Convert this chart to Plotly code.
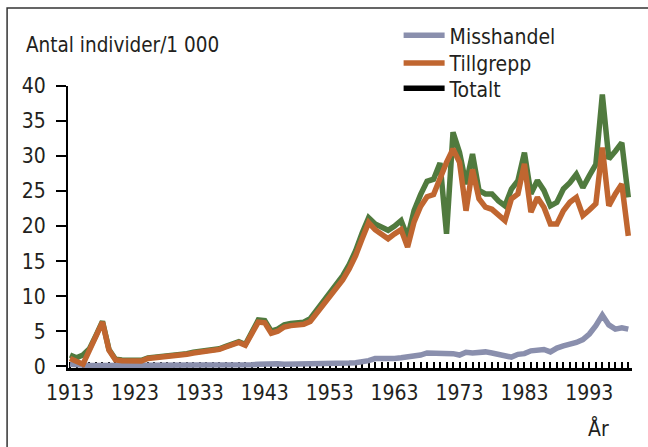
import plotly.graph_objects as go

years = list(range(1913, 2000))
tick_years = [1913, 1923, 1933, 1943, 1953, 1963, 1973, 1983, 1993]
tick_labels = [str(y) for y in tick_years]

misshandel = [
    0.3, 0.2, 0.15, 0.1, 0.1, 0.1, 0.1, 0.1, 0.1, 0.1,
    0.1, 0.05, 0.05, 0.05, 0.1, 0.1, 0.1, 0.1, 0.1, 0.1,
    0.1, 0.1, 0.1, 0.1, 0.1, 0.15, 0.15, 0.2, 0.2, 0.3,
    0.35, 0.3, 0.35, 0.3, 0.3, 0.3, 0.3, 0.3, 0.35, 0.35,
    0.4, 0.4, 0.4, 0.45, 0.5, 0.6, 0.8, 1.1, 1.1, 1.0,
    1.1, 1.2, 1.3, 1.5, 1.6, 1.9, 1.9, 1.9, 1.9, 1.8,
    1.6, 2.0, 1.9, 1.95, 2.05, 1.9, 1.7, 1.6, 1.3, 1.7,
    1.8, 2.2, 2.3, 2.4, 2.05, 2.6, 2.9, 3.1, 3.4, 3.8,
    4.6, 5.8, 7.3, 5.9, 5.3, 5.5, 5.3,
]

tillgrepp = [
    1.1, 0.8, 0.3, 2.3, 4.3, 6.3, 2.3, 0.9, 0.8, 0.75,
    0.8, 0.75, 1.1, 1.2, 1.2, 1.3, 1.4, 1.6, 1.7, 1.9,
    2.05, 2.2, 2.3, 2.4, 2.75, 3.0, 3.4, 3.0, 4.8, 6.3,
    6.2, 4.7, 5.0, 5.6, 5.8, 5.9, 6.0, 6.4, 7.6, 8.8,
    9.9, 11.0, 12.3, 13.9, 15.8, 18.2, 20.5, 19.5, 18.8, 18.2,
    18.9, 19.5, 17.0, 20.6, 22.8, 24.2, 24.5, 26.9, 29.1, 31.0,
    29.1, 22.2, 28.1, 23.9, 22.7, 22.4, 21.7, 20.8, 23.9, 24.6,
    28.9, 22.0, 24.1, 22.7, 20.3, 20.3, 22.2, 23.4, 24.1, 21.5,
    22.3, 23.2, 31.2, 22.9, 24.6, 26.0, 18.6,
]

totalt = [
    1.6, 1.2, 1.6, 2.5, 4.4, 6.4, 2.4, 1.0, 0.9, 0.85,
    0.9, 0.85, 1.2, 1.3, 1.3, 1.4, 1.5, 1.7, 1.8, 2.0,
    2.15, 2.3, 2.4, 2.5, 2.85, 3.1, 3.5, 3.1, 5.0, 6.6,
    6.5, 5.0, 5.3, 5.9, 6.1, 6.2, 6.3, 6.8, 8.0, 9.3,
    10.4, 11.5, 12.9, 14.5, 16.5, 19.0, 21.2, 20.3, 19.8, 19.4,
    20.0, 20.8, 18.4, 22.2, 24.5, 26.4, 26.7, 29.0, 18.9, 33.4,
    30.5, 26.0, 30.3, 25.1, 24.6, 24.6, 23.6, 22.9, 25.3, 26.5,
    30.5, 24.6, 26.5, 25.1, 22.9, 23.4, 25.3, 26.2, 27.4, 25.5,
    27.2, 28.8, 38.8, 29.6, 30.7, 31.9, 24.1,
]

GREEN = "#507a3e"
ORANGE = "#c06630"
GREY = "#8a8fad"
TEXT = "#231f20"
FAMILY = "DejaVu Sans Condensed, DejaVu Sans, sans-serif"


def fnt(size=21):
    return dict(family=FAMILY, size=size, color=TEXT)


def leg(ypaper):
    return dict(x=0.5862, y=ypaper, xanchor="left", yanchor="middle",
                bgcolor="rgba(0,0,0,0)", font=fnt(), itemwidth=41)


fig = go.Figure()
fig.add_trace(go.Scatter(x=years, y=totalt, mode="lines", name="Totalt",
                         line=dict(color=GREEN, width=5.5), showlegend=False))
fig.add_trace(go.Scatter(x=years, y=misshandel, mode="lines", name="Misshandel",
                         line=dict(color=GREY, width=5.5), legend="legend"))
fig.add_trace(go.Scatter(x=years, y=tillgrepp, mode="lines", name="Tillgrepp",
                         line=dict(color=ORANGE, width=5.5), legend="legend2"))
fig.add_trace(go.Scatter(x=[None], y=[None], mode="lines", name="Totalt",
                         line=dict(color="black", width=5.5), legend="legend3"))

fig.update_layout(
    width=648, height=447,
    margin=dict(l=68, r=16, t=86, b=79),
    paper_bgcolor="white", plot_bgcolor="white",
    font=fnt(),
    showlegend=True,
    legend=leg(1.1784),
    legend2=leg(1.0800),
    legend3=leg(0.9904),
    xaxis=dict(range=[1912.69, 1999.57], tickvals=tick_years, ticktext=tick_labels,
               ticks="inside", ticklen=6, tickwidth=2, tickcolor="black",
               minor=dict(dtick=1, tick0=1913, ticks="inside", ticklen=6,
                          tickwidth=2, tickcolor="black"),
               showline=True, linecolor="black", linewidth=3,
               showgrid=False, zeroline=False, layer="below traces",
               ticklabelstandoff=4, tickfont=fnt()),
    yaxis=dict(range=[-0.25, 40], tickvals=[0, 5, 10, 15, 20, 25, 30, 35, 40],
               ticks="outside", ticklen=10, tickwidth=2, tickcolor="black",
               showline=True, linecolor="black", linewidth=2,
               showgrid=False, zeroline=False, layer="below traces",
               ticklabelstandoff=6, tickfont=fnt()),
    shapes=[dict(type="rect", xref="paper", yref="paper",
                 x0=-0.108, x1=2, y0=-2, y1=1.2766,
                 line=dict(color="#333333", width=1.5), fillcolor="rgba(0,0,0,0)")],
    annotations=[
        dict(text="Antal individer/1 000", xref="paper", yref="paper",
             x=-0.078, y=1.145, xanchor="left", yanchor="middle",
             showarrow=False, font=fnt(20.5)),
        dict(text="År", xref="paper", yref="paper",
             x=0.94, y=-0.2117, xanchor="center", yanchor="middle",
             showarrow=False, font=fnt()),
    ],
)

fig.write_html("out.html", config={"displayModeBar": False},
               post_script="document.body.style.margin='0px';")
